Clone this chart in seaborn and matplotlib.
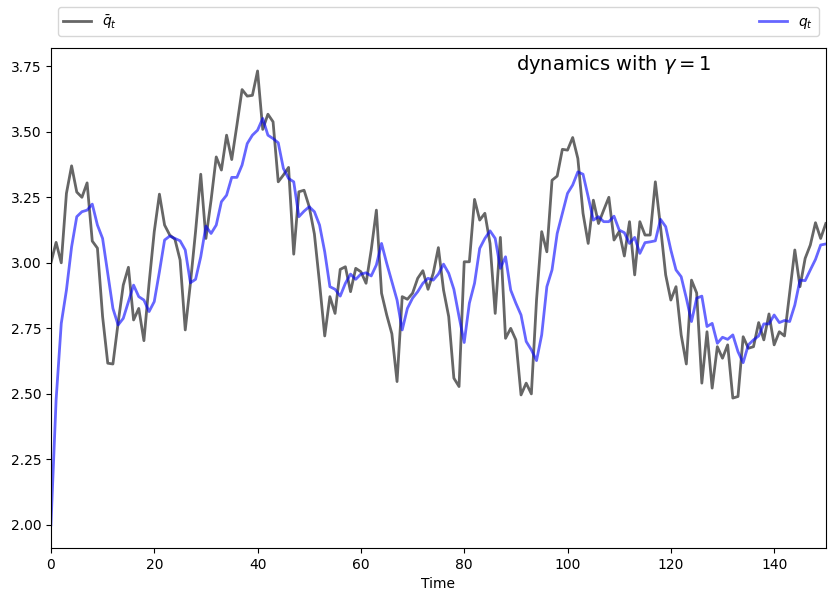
import numpy as np
import pandas as pd
import matplotlib
matplotlib.use("Agg")
import matplotlib.pyplot as plt
import seaborn as sns
from matplotlib.ticker import FormatStrFormatter

# values, t = 0..150
q_bar = [3.00, 3.078, 3.00, 3.265, 3.37, 3.27, 3.25, 3.305, 3.083, 3.056,
         2.795, 2.617, 2.614, 2.77, 2.915, 2.983, 2.782, 2.826, 2.703, 2.922,
         3.119, 3.262, 3.144, 3.106, 3.09, 3.011, 2.744, 2.922, 3.12, 3.338,
         3.093, 3.239, 3.404, 3.354, 3.487, 3.394, 3.525, 3.661, 3.636, 3.639,
         3.732, 3.509, 3.567, 3.538, 3.309, 3.335, 3.364, 3.033, 3.271, 3.277,
         3.214, 3.11, 2.922, 2.721, 2.871, 2.807, 2.975, 2.985, 2.89, 2.979,
         2.966, 2.922, 3.049, 3.201, 2.884, 2.801, 2.729, 2.547, 2.871, 2.861,
         2.884, 2.941, 2.97, 2.899, 2.96, 3.058, 2.896, 2.795, 2.56, 2.528,
         3.004, 3.004, 3.242, 3.163, 3.189, 3.074, 2.807, 3.097, 2.712, 2.75,
         2.706, 2.496, 2.541, 2.50, 2.858, 3.119, 3.042, 3.315, 3.331, 3.433,
         3.43, 3.478, 3.398, 3.189, 3.074, 3.239, 3.15, 3.201, 3.25, 3.087,
         3.119, 3.026, 3.157, 2.954, 3.157, 3.106, 3.106, 3.309, 3.138, 2.954,
         2.858, 2.909, 2.725, 2.614, 2.934, 2.885, 2.541, 2.737, 2.522, 2.68,
         2.636, 2.687, 2.484, 2.49, 2.718, 2.674, 2.68, 2.772, 2.706, 2.805,
         2.687, 2.737, 2.721, 2.884, 3.049, 2.909, 3.017, 3.068, 3.153, 3.093,
         3.15]

q = [2.00, 2.477, 2.769, 2.896, 3.061, 3.176, 3.195, 3.201, 3.224, 3.144,
     3.093, 2.96, 2.826, 2.763, 2.788, 2.852, 2.915, 2.871, 2.858, 2.814,
     2.852, 2.966, 3.087, 3.102, 3.093, 3.084, 3.049, 2.924, 2.937, 3.023,
     3.14, 3.112, 3.144, 3.233, 3.258, 3.326, 3.326, 3.373, 3.455, 3.487,
     3.506, 3.551, 3.487, 3.474, 3.458, 3.36, 3.322, 3.309, 3.176, 3.197,
     3.214, 3.195, 3.144, 3.042, 2.909, 2.899, 2.873, 2.922, 2.957, 2.937,
     2.957, 2.962, 2.95, 2.992, 3.074, 2.998, 2.928, 2.858, 2.744, 2.826,
     2.865, 2.89, 2.922, 2.941, 2.934, 2.957, 2.995, 2.96, 2.899, 2.795,
     2.696, 2.846, 2.922, 3.055, 3.093, 3.122, 3.093, 2.979, 3.023, 2.896,
     2.846, 2.801, 2.70, 2.668, 2.627, 2.725, 2.909, 2.973, 3.112, 3.189,
     3.265, 3.297, 3.347, 3.338, 3.252, 3.163, 3.176, 3.157, 3.157, 3.178,
     3.125, 3.115, 3.074, 3.097, 3.036, 3.077, 3.08, 3.084, 3.166, 3.138,
     3.049, 2.973, 2.947, 2.865, 2.776, 2.865, 2.873, 2.757, 2.769, 2.693,
     2.716, 2.708, 2.725, 2.661, 2.619, 2.687, 2.706, 2.721, 2.767, 2.767,
     2.801, 2.772, 2.78, 2.776, 2.839, 2.934, 2.932, 2.973, 3.013, 3.068,
     3.072]

time = np.arange(len(q))
df = pd.DataFrame({"Time": time, "q_bar": q_bar, "q": q})

fig, ax = plt.subplots(figsize=(8.35, 6.02), dpi=100)
fig.subplots_adjust(left=0.061, right=0.989, bottom=0.0897, top=0.920)

sns.lineplot(data=df, x="Time", y="q_bar", ax=ax, color="k", lw=2, alpha=0.6,
             label=r"$\bar q_t$")
sns.lineplot(data=df, x="Time", y="q", ax=ax, color="b", lw=2, alpha=0.6,
             label=r"$q_t$")

ax.set_xlim(0, 150)
ax.set_ylim(1.912, 3.819)
ax.yaxis.set_major_formatter(FormatStrFormatter("%.2f"))
ax.set_xlabel("Time")
ax.set_ylabel("")

ax.text(90, 3.735, r"dynamics with $\gamma = 1$", fontsize=14)

# legend strip above the axes
ax.legend(bbox_to_anchor=(0.0, 1.01, 1.0, 0.102), loc=3, ncol=2,
          mode="expand")

plt.savefig("out.png", dpi=100)
